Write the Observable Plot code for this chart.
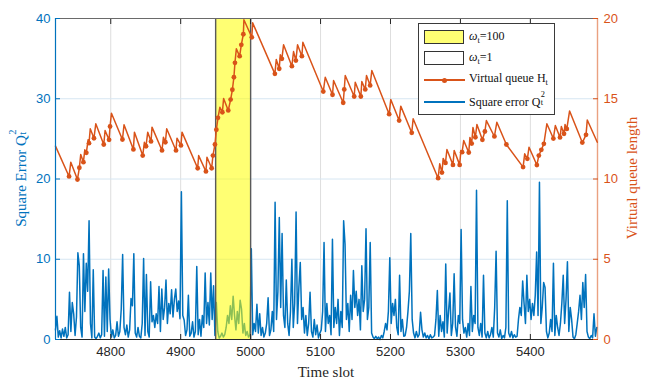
<!DOCTYPE html>
<html>
<head>
<meta charset="utf-8">
<script src="https://cdn.jsdelivr.net/npm/d3@7"></script>
<script src="https://cdn.jsdelivr.net/npm/@observablehq/plot@0.6"></script>
<style>
  body { margin: 0; background: #fff; }
  #wrap { position: relative; width: 651px; height: 389px; overflow: hidden; }
  .serif { font-family: "Liberation Serif", "Times New Roman", serif; }
  .title { position: absolute; font-size: 15px; white-space: nowrap; line-height: 1; }
  .ss { display: inline-block; position: relative; width: 6px; height: 1em; }
  .ss .sup, .ss .sub { position: absolute; left: 0.5px; font-size: 0.7em; line-height: 1; }
  .ss .sup { top: -0.3em; }
  .ss .sub { top: 0.62em; }
  .sb { font-size: 0.7em; position: relative; top: 0.35em; }
  #legend { position: absolute; left: 418px; top: 23px; width: 137px; height: 92px;
            border: 1px solid #3a3a3a; background: #fff; box-sizing: border-box; }
  .row { position: absolute; left: 0; height: 20px; width: 100%; }
  .patch { position: absolute; left: 5px; top: 2px; width: 40px; height: 14px; border: 1px solid #333; box-sizing: border-box; }
  .ltext { position: absolute; left: 50px; top: 2px; font-size: 12px; line-height: 1; white-space: nowrap; color: #111; }
  .lline { position: absolute; left: 5px; top: 9px; width: 41px; height: 2px; }
  .ldot { position: absolute; left: 22.5px; top: 7.5px; width: 5px; height: 5px; border-radius: 50%; }
</style>
</head>
<body>
<div id="wrap"></div>
<script>
// ---------------- data ----------------
const xDomain = [4721, 5496];
const yDomain = [0, 40];
const xTicks = [4800, 4900, 5000, 5100, 5200, 5300, 5400];
const yTicksLeft = [0, 10, 20, 30, 40];
const yTicksRight = [0, 5, 10, 15, 20];
const shadeStart = [4950];
const shadeEnd = [5000];

// Square error Q_t^2, one value every 2 slots starting at slot 4721
const errStart = 4721;
const errStep = 2;
const errValues = [
  1.2, 2.9, 0.3, 1.1, 0.2, 1.3, 0.4, 1.5, 0.2, 0.6,
  5.9, 1.0, 4.6, 3.2, 0.5, 2.8, 10.8, 9.2, 1.5, 0.3,
  10.7, 3.5, 9.5, 6.0, 14.8, 2.0, 0.2, 8.7, 0.3, 0.1,
  0.4, 0.8, 0.2, 0.6, 8.6, 0.4, 7.8, 1.0, 8.8, 2.5,
  0.3, 1.2, 0.2, 0.5, 2.2, 0.4, 1.0, 3.8, 10.6, 1.5,
  0.6, 1.8, 0.3, 1.2, 5.1, 4.2, 10.7, 0.8, 0.3, 1.5,
  0.4, 0.2, 2.0, 10.1, 0.5, 8.1, 1.0, 0.3, 7.2, 2.2,
  3.0, 1.5, 3.2, 2.0, 6.6, 1.0, 6.3, 2.5, 4.0, 7.4,
  2.0, 4.5, 3.2, 6.2, 2.8, 5.0, 6.3, 3.5, 4.8, 2.6,
  18.4, 3.0, 2.4, 0.5, 1.2, 5.5, 0.4, 0.8, 2.2, 0.3,
  1.0, 9.1, 0.6, 2.5, 0.4, 3.0, 1.5, 8.3, 2.0, 4.6,
  1.8, 8.3, 2.5, 6.7, 0.5, 4.6, 1.0, 0.2, 0.4, 0.8,
  0.3, 0.6, 1.5, 3.0, 2.0, 4.2, 2.5, 5.4, 3.0, 1.2,
  3.5, 2.0, 4.9, 3.8, 0.8, 2.0, 0.5, 1.0, 0.3, 0.6,
  11.3, 0.6, 2.0, 1.0, 4.4, 0.8, 3.2, 0.5, 1.5, 0.3,
  0.8, 2.0, 5.2, 0.5, 1.2, 3.5, 1.0, 17.1, 2.5, 6.0,
  15.2, 4.0, 13.2, 3.0, 1.5, 7.4, 2.0, 0.5, 3.5, 10.0,
  1.5, 4.5, 15.9, 2.0, 6.5, 9.6, 2.5, 4.0, 0.8, 3.0,
  0.5, 2.0, 5.9, 1.0, 0.3, 2.5, 0.6, 1.8, 0.2, 0.8,
  1.2, 3.5, 12.1, 1.0, 4.5, 2.0, 3.0, 0.6, 12.5, 1.5,
  4.0, 2.0, 5.0, 0.5, 3.5, 1.5, 14.8, 11.9, 2.5, 4.5,
  1.0, 5.5, 2.5, 8.6, 4.0, 6.0, 3.0, 5.0, 1.2, 9.2,
  3.5, 5.0, 13.8, 2.5, 4.0, 12.1, 0.8, 0.3, 0.1, 0.4,
  0.1, 0.3, 0.0, 0.5, 0.2, 1.0, 2.0, 1.2, 3.5, 10.2,
  2.0, 4.5, 3.0, 5.0, 1.5, 0.6, 8.0, 1.0, 2.5, 0.4,
  0.5, 1.5, 3.5, 6.0, 13.2, 2.5, 0.8, 0.2, 1.0, 0.3,
  0.6, 3.4, 1.2, 0.3, 0.8, 0.2, 0.5, 0.1, 0.6, 0.2,
  0.3, 0.5, 2.5, 6.1, 0.4, 3.0, 1.0, 2.2, 0.3, 9.4,
  0.8, 3.5, 5.8, 0.5, 2.0, 8.2, 1.5, 0.4, 3.0, 2.0,
  13.7, 2.5, 0.8, 1.5, 0.3, 2.0, 0.5, 6.6, 1.0, 3.0,
  2.0, 18.6, 1.5, 0.5, 2.0, 0.3, 8.0, 0.8, 0.2, 1.0,
  0.2, 0.6, 1.5, 0.3, 4.0, 11.0, 0.8, 0.3, 1.2, 0.1,
  0.5, 0.2, 1.5, 17.3, 0.8, 0.3, 1.0, 0.2, 0.6, 0.3,
  0.4, 2.5, 4.0, 3.0, 7.3, 4.5, 2.0, 8.0, 3.5, 5.0,
  2.5, 4.5, 3.0, 5.5, 10.9, 3.0, 19.6, 2.0, 4.0, 7.1,
  6.5, 1.0, 0.2, 0.8, 2.5, 1.0, 9.5, 0.5, 3.0, 1.5,
  0.5, 2.0, 4.5, 8.0, 2.0, 5.0, 9.7, 1.0, 4.0, 2.5,
  0.3, 0.1, 0.6, 2.0, 3.5, 5.5, 2.5, 7.1, 4.0, 8.1,
  1.0, 0.3, 0.1, 0.5, 0.2, 3.2, 0.4, 1.5
];

// Virtual queue H_t: vertices of the sawtooth (M = marker point, P = top of a jump, n = plain)
const queueT = [
  4721, 4740.4, 4742.9, 4752.4, 4755.1, 4757.1, 4760.9, 4762.9, 4765.1, 4767.6,
  4768.9, 4770.7, 4776.0, 4778.6, 4790.0, 4791.9, 4797.6, 4799.0, 4801.0, 4816.7,
  4819.0, 4832.4, 4833.9, 4845.7, 4848.1, 4850.4, 4852.9, 4857.6, 4859.0, 4873.3,
  4875.3, 4878.1, 4880.0, 4893.3, 4894.7, 4900.4, 4901.9, 4924.3, 4925.7, 4936.1,
  4937.6, 4944.3, 4946.1, 4949.0, 4951.0, 4953.3, 4956.1, 4959.6, 4961.4, 4968.0,
  4971.4, 4973.9, 4976.1, 4977.6, 4979.6, 4984.3, 4986.7, 4989.6, 4990.4, 5001.7,
  5002.9, 5034.7, 5036.7, 5040.9, 5042.4, 5044.7, 5047.1, 5059.0, 5061.4, 5064.7,
  5067.1, 5073.3, 5074.7, 5103.9, 5106.7, 5117.1, 5118.6, 5132.4, 5133.9, 5135.3,
  5148.1, 5149.6, 5157.6, 5159.0, 5163.9, 5165.7, 5170.9, 5173.3, 5198.1, 5200.4,
  5212.4, 5214.7, 5230.4, 5232.4, 5268.1, 5270.4, 5273.6, 5275.3, 5278.6, 5280.7,
  5289.3, 5291.1, 5298.9, 5300.7, 5302.4, 5304.7, 5311.9, 5313.6, 5316.1, 5317.9,
  5321.4, 5323.6, 5331.4, 5335.0, 5337.1, 5348.6, 5352.1, 5365.7, 5389.6, 5391.9,
  5395.7, 5398.1, 5409.3, 5412.1, 5415.7, 5419.3, 5423.6, 5432.9, 5435.7, 5442.4,
  5444.3, 5448.1, 5449.6, 5452.1, 5456.1, 5474.3, 5479.6, 5481.4, 5495.7
];
const queueH = [
  12.05, 10.16, 11.05, 9.97, 10.70, 11.53, 11.05, 11.82, 11.63, 12.44,
  12.23, 13.13, 12.54, 13.44, 12.15, 13.02, 12.44, 13.27, 14.10, 12.46,
  13.38, 11.84, 12.92, 11.46, 12.29, 12.04, 12.92, 12.34, 13.23, 11.78,
  12.60, 12.29, 13.13, 11.78, 12.54, 12.09, 12.92, 10.67, 11.46, 10.47,
  11.36, 10.67, 11.46, 12.15, 13.07, 13.81, 14.47, 14.16, 15.02, 14.27,
  14.95, 15.56, 16.34, 17.24, 18.11, 17.65, 18.36, 19.02, 19.92, 18.83,
  19.73, 16.55, 17.45, 16.87, 17.74, 17.49, 18.36, 17.03, 17.94, 17.38,
  18.36, 17.65, 18.52, 15.45, 16.34, 15.25, 16.14, 14.75, 15.58, 16.45,
  15.14, 16.03, 15.14, 16.07, 15.58, 16.45, 15.83, 16.76, 14.04, 14.95,
  13.64, 14.54, 12.88, 13.75, 10.05, 10.95, 10.40, 11.28, 11.00, 11.84,
  10.88, 11.78, 10.88, 11.78, 11.67, 12.40, 11.65, 12.59, 12.21, 13.21,
  12.60, 13.40, 12.44, 12.96, 13.64, 12.65, 13.54, 12.15, 10.74, 11.57,
  11.26, 11.98, 10.87, 11.46, 11.82, 12.19, 13.44, 12.52, 13.33, 12.59,
  13.27, 12.82, 13.40, 13.12, 14.24, 12.27, 12.75, 13.68, 12.29
];
const queueKind = [
  "n","M","P","M","M","P","M","P","M","P",
  "M","P","M","P","M","P","M","M","P","M",
  "P","M","P","M","P","M","P","M","P","M",
  "P","M","P","M","P","M","P","M","P","M",
  "P","M","M","M","M","M","P","M","P","M",
  "M","M","M","M","P","M","M","M","P","M",
  "P","M","P","M","P","M","P","M","P","M",
  "P","M","P","M","P","M","P","M","M","P",
  "M","P","M","P","M","P","M","P","M","P",
  "M","P","M","P","M","P","M","P","M","P",
  "M","P","M","P","M","P","M","P","M","P",
  "M","P","M","M","P","M","P","M","M","P",
  "M","P","M","M","M","M","P","M","P","M",
  "P","M","P","M","P","M","M","P","n"
];

// ---------------- tables built from the arrays ----------------
const errData = errValues.map((v, i) => ({t: errStart + i * errStep, v}));
const queue = queueT.map((t, i) => ({t, h: queueH[i], k: queueKind[i]}));
const shade = shadeStart.map((s, i) => ({x1: s, x2: shadeEnd[i]}));
const blue = "#0072BD", orange = "#D95319";

const plot = Plot.plot({
  width: 651,
  height: 389,
  marginLeft: 55,
  marginRight: 54,
  marginTop: 18,
  marginBottom: 50,
  x: {domain: xDomain},
  y: {domain: yDomain},
  style: {fontFamily: "'Liberation Sans', Arial, sans-serif", fontSize: "13px", background: "white", overflow: "visible"},
  marks: [
    Plot.gridX(xTicks, {stroke: "#dedede", strokeOpacity: 1, strokeWidth: 1}),
    Plot.gridY(yTicksLeft, {stroke: "#d6e6f2", strokeOpacity: 1, strokeWidth: 1}),
    Plot.lineY(errData, {x: "t", y: "v", stroke: blue, strokeWidth: 1.5, strokeLinejoin: "round"}),
    Plot.rect(shade, {x1: "x1", x2: "x2", fill: "#ffff00", fillOpacity: 0.55}),
    Plot.ruleX(shadeStart.concat(shadeEnd), {stroke: "#5a5a5a", strokeWidth: 1.4}),
    Plot.line(queue, {x: "t", y: d => d.h * 2, stroke: orange, strokeWidth: 1.5, strokeLinejoin: "round"}),
    Plot.dot(queue.filter(d => d.k === "M"), {x: "t", y: d => d.h * 2, r: 2.4, fill: orange, stroke: "none"}),
    Plot.ruleY([yDomain[1]], {stroke: "#6a6a6a", strokeWidth: 1.2}),
    Plot.ruleY([yDomain[0]], {stroke: "#262626", strokeWidth: 1.2}),
    Plot.ruleX([xDomain[0]], {stroke: blue, strokeWidth: 1.2}),
    Plot.ruleX([xDomain[1]], {stroke: orange, strokeOpacity: 0.55, strokeWidth: 1.4}),
    Plot.axisX(xTicks, {anchor: "bottom", tickSize: -5, tickPadding: 12, color: "#262626", label: null, fontSize: 13, tickFormat: d => String(d)}),
    Plot.axisX(xTicks, {anchor: "top", tickSize: -5, tickFormat: () => "", color: "#262626", label: null}),
    Plot.axisY(yTicksLeft, {anchor: "left", tickSize: -5, tickPadding: 10, color: blue, label: null, fontSize: 13, tickFormat: d => String(d)}),
    Plot.axisY(yTicksRight.map(v => v * 2), {anchor: "right", tickSize: -5, tickPadding: 11, color: orange, label: null, fontSize: 13, tickFormat: d => String(d / 2)})
  ]
});

const wrap = document.getElementById("wrap");
wrap.appendChild(plot);

// axis titles and legend (text kept as text)
const html = `
<div class="title serif" style="left:20px; top:178px; color:${blue}; transform:translate(-50%,-50%) rotate(-90deg);">Square Error Q<span class="ss"><span class="sup">2</span><span class="sub">t</span></span></div>
<div class="title serif" style="left:632px; top:178px; color:${orange}; transform:translate(-50%,-50%) rotate(-90deg);">Virtual queue length</div>
<div class="title serif" style="left:326px; top:372px; color:#262626; transform:translate(-50%,-50%);">Time slot</div>
<div id="legend" class="serif">
  <div class="row" style="top:4px;"><div class="patch" style="background:#ffff73;"></div><div class="ltext"><i>ω</i><span class="sb">t</span>=100</div></div>
  <div class="row" style="top:25px;"><div class="patch" style="background:#fff;"></div><div class="ltext"><i>ω</i><span class="sb">t</span>=1</div></div>
  <div class="row" style="top:46px;"><div class="lline" style="background:${orange};"></div><div class="ldot" style="background:${orange};"></div><div class="ltext">Virtual queue H<span class="sb">t</span></div></div>
  <div class="row" style="top:68px;"><div class="lline" style="background:${blue};"></div><div class="ltext">Square error Q<span class="ss" style="font-size:12px"><span class="sup">2</span><span class="sub">t</span></span></div></div>
</div>`;
wrap.insertAdjacentHTML("beforeend", html);
</script>
</body>
</html>
